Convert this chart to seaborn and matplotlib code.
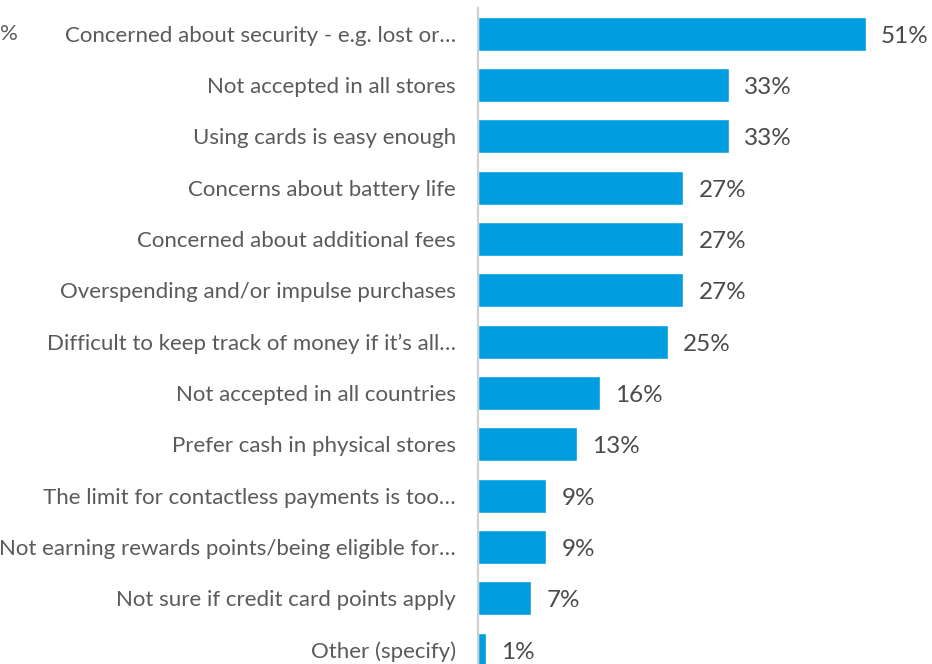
#! /usr/bin/env python3
import matplotlib.pyplot as plt
import seaborn as sns
import pandas as pd

reasons = [
    "Concerned about security - e.g. lost or\u2026",
    "Not accepted in all stores",
    "Using cards is easy enough",
    "Concerns about battery life",
    "Concerned about additional fees",
    "Overspending and/or impulse purchases",
    "Difficult to keep track of money if it\u2019s all\u2026",
    "Not accepted in all countries",
    "Prefer cash in physical stores",
    "The limit for contactless payments is too\u2026",
    "Not earning rewards points/being eligible for\u2026",
    "Not sure if credit card points apply",
    "Other (specify)",
]
shares = [51, 33, 33, 27, 27, 27, 25, 16, 13, 9, 9, 7, 1]


def main(output_file):
    data = pd.DataFrame({"reason": reasons, "share": shares})
    sns.set_style("white")
    plt.rcParams['font.family'] = ['Lato', 'DejaVu Sans']

    fig = plt.figure(figsize=(9.32, 6.64), dpi=100)
    ax = fig.add_axes([478 / 932, 0, 1 - 478 / 932, 1 - 8 / 664])
    sns.barplot(x="share", y="reason", data=data, orient="h", color="#009ddf",
                width=0.66, saturation=1, ax=ax)

    ax.set_xlim(0, 454 / 7.6)
    ax.set_ylim(12.28, -0.5)
    for i, v in enumerate(shares):
        ax.text(v + 2.0, i + 0.05, f"{v}%", va="center", ha="left", fontsize=17.5,
                color="#4a4a4a")

    ax.set_xlabel("")
    ax.set_ylabel("")
    ax.set_xticks([])
    ax.tick_params(axis="y", length=0, pad=16, labelsize=16, labelcolor="#5a5a5a")
    sns.despine(ax=ax, top=True, right=True, bottom=True, left=False)
    ax.spines["left"].set_color("#d0d0d0")
    ax.spines["left"].set_linewidth(1.5)

    fig.text(0, 1 - 34 / 664, "%", ha="left", va="center", fontsize=16,
             color="#5a5a5a")
    fig.savefig(output_file, dpi=100)
    plt.clf()


if __name__ == "__main__":
    main("out.png")
